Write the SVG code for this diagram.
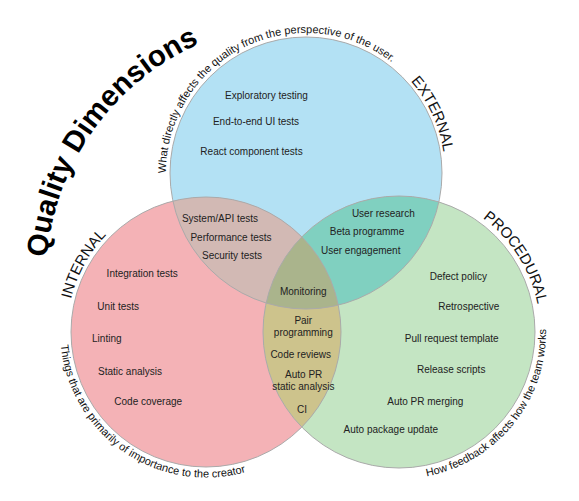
<svg xmlns="http://www.w3.org/2000/svg" width="579" height="501" viewBox="0 0 579 501">
<style>
.item{font-family:"Liberation Sans",Arial,sans-serif;font-size:10px;fill:#222;text-anchor:middle}
.arc{font-family:"Liberation Sans",Arial,sans-serif;font-size:11px;fill:#111}
.dim{font-family:"Liberation Sans",Arial,sans-serif;font-size:15px;fill:#111}
.title{font-family:"Liberation Sans",Arial,sans-serif;font-size:29.5px;font-weight:bold;fill:#000}
.outline{fill:none;stroke:#aaaaaa;stroke-width:1}
</style>
<defs>
<clipPath id="cBlue"><circle cx="306" cy="173" r="136"/></clipPath>
<clipPath id="cPink"><circle cx="206" cy="332" r="135"/></clipPath>
<clipPath id="cGreen"><circle cx="399" cy="332" r="136"/></clipPath>
<path id="pTitle" d="M119.7,459.1 A257,257 0 0 1 413.6,47"/>
<path id="pBlueArc" d="M192.9,255.5 A140,140 0 1 1 440.5,134.2"/>
<path id="pExternal" d="M270,38.7 A139,139 0 0 1 385.7,286.9"/>
<path id="pInternal" d="M118.5,440 A139,139 0 0 1 251.3,200.6"/>
<path id="pProcedural" d="M345,201.7 A141,141 0 0 1 494.3,436"/>
<path id="pPinkArc" d="M93.3,239.1 A146,146 0 1 0 333.1,403.9"/>
<path id="pGreenArc" d="M288.1,428.4 A147,147 0 1 0 470.3,203.4"/>
</defs>

<g id="external">
<circle cx="306" cy="173" r="136" fill="#b3e1f4"/>
</g>
<g id="internal">
<circle cx="206" cy="332" r="135" fill="#f4b2b6"/>
</g>
<g id="procedural">
<circle cx="399" cy="332" r="136" fill="#c4e5c3"/>
</g>
<g id="overlaps">
<circle cx="206" cy="332" r="135" fill="#d2b9b4" clip-path="url(#cBlue)"/>
<circle cx="399" cy="332" r="136" fill="#80d0c0" clip-path="url(#cBlue)"/>
<circle cx="399" cy="332" r="136" fill="#cdc38c" clip-path="url(#cPink)"/>
<g clip-path="url(#cBlue)"><circle cx="399" cy="332" r="136" fill="#aab48c" clip-path="url(#cPink)"/></g>
</g>
<g id="outlines">
<circle class="outline" cx="306" cy="173" r="136"/>
<circle class="outline" cx="206" cy="332" r="135"/>
<circle class="outline" cx="399" cy="332" r="136"/>
</g>

<g id="title">
<text class="title"><textPath href="#pTitle" startOffset="50%" text-anchor="middle">Quality Dimensions</textPath></text>
</g>
<g id="labels">
<text class="arc"><textPath href="#pBlueArc" startOffset="50%" text-anchor="middle">What directly affects the quality from the perspective of the user.</textPath></text>
<text class="dim"><textPath href="#pExternal" startOffset="50%" text-anchor="middle">EXTERNAL</textPath></text>
<text class="dim"><textPath href="#pInternal" startOffset="50%" text-anchor="middle">INTERNAL</textPath></text>
<text class="dim"><textPath href="#pProcedural" startOffset="50%" text-anchor="middle">PROCEDURAL</textPath></text>
<text class="arc"><textPath href="#pPinkArc" startOffset="50%" text-anchor="middle">Things that are primarily of importance to the creator</textPath></text>
<text class="arc"><textPath href="#pGreenArc" startOffset="50%" text-anchor="middle">How feedback affects how the team works</textPath></text>
</g>

<g id="external-items">
<text class="item" x="266.5" y="99">Exploratory testing</text>
<text class="item" x="256" y="124.5">End-to-end UI tests</text>
<text class="item" x="251.5" y="154.5">React component tests</text>
</g>
<g id="internal-external-items">
<text class="item" x="220" y="221.8">System/API tests</text>
<text class="item" x="231" y="241">Performance tests</text>
<text class="item" x="232" y="259">Security tests</text>
</g>
<g id="external-procedural-items">
<text class="item" x="383.3" y="217">User research</text>
<text class="item" x="367" y="235">Beta programme</text>
<text class="item" x="360.7" y="254">User engagement</text>
</g>
<g id="all-items">
<text class="item" x="303.3" y="295">Monitoring</text>
</g>
<g id="internal-procedural-items">
<text class="item" x="303.3" y="324">Pair</text>
<text class="item" x="303.3" y="336">programming</text>
<text class="item" x="300.7" y="357.5">Code reviews</text>
<text class="item" x="303.7" y="378">Auto PR</text>
<text class="item" x="303.3" y="390">static analysis</text>
<text class="item" x="302" y="413">CI</text>
</g>
<g id="internal-items">
<text class="item" x="142.2" y="277">Integration tests</text>
<text class="item" x="118.2" y="309.5">Unit tests</text>
<text class="item" x="106.8" y="342">Linting</text>
<text class="item" x="130" y="375">Static analysis</text>
<text class="item" x="148.2" y="405">Code coverage</text>
</g>
<g id="procedural-items">
<text class="item" x="458.3" y="279.5">Defect policy</text>
<text class="item" x="468.8" y="309.5">Retrospective</text>
<text class="item" x="451.7" y="342">Pull request template</text>
<text class="item" x="451.2" y="373">Release scripts</text>
<text class="item" x="425.3" y="405">Auto PR merging</text>
<text class="item" x="390.8" y="433">Auto package update</text>
</g>
</svg>
